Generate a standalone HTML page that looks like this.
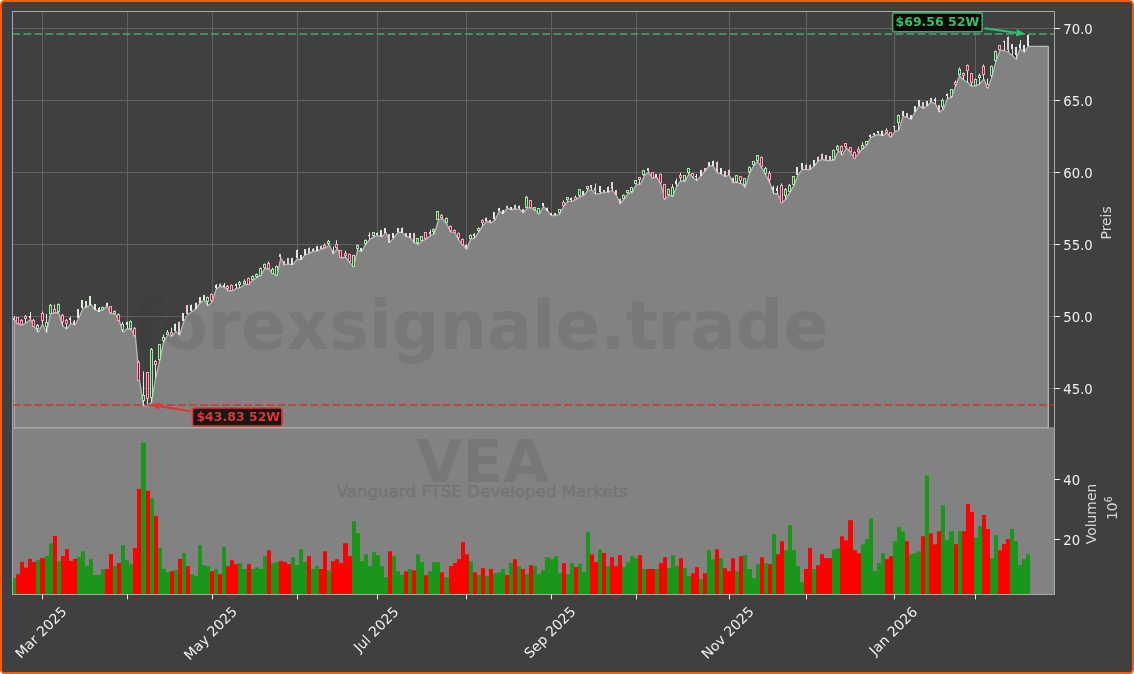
<!DOCTYPE html>
<html><head><meta charset="utf-8"><style>
html,body{margin:0;padding:0;background:#fff;}
body{width:1134px;height:674px;position:relative;overflow:hidden;}
</style></head><body>
<svg width="1134" height="674" viewBox="0 0 1134 674" style="position:absolute;left:0;top:0;will-change:transform">
<rect x="1" y="1" width="1132" height="672" rx="3.5" ry="3.5" fill="#404040" stroke="#fc5c00" stroke-width="2"/>
<defs><clipPath id="cp"><rect x="12.5" y="11.5" width="1042.0" height="417.0"/></clipPath><clipPath id="cv"><rect x="12.5" y="428.0" width="1042.0" height="166.5"/></clipPath></defs>
<path d="M12.5 28.5H1054.5 M12.5 100.5H1054.5 M12.5 172.5H1054.5 M12.5 244.5H1054.5 M12.5 316.5H1054.5 M12.5 388.5H1054.5 M42.5 11.5V427.8 M127.5 11.5V427.8 M212.5 11.5V427.8 M297.5 11.5V427.8 M377.5 11.5V427.8 M466.5 11.5V427.8 M551.5 11.5V427.8 M636.5 11.5V427.8 M729.5 11.5V427.8 M806.5 11.5V427.8 M894.5 11.5V427.8 M975.5 11.5V427.8" stroke="#626262" stroke-width="1" fill="none"/>
<g clip-path="url(#cp)"><path d="M14.22 427.80 L14.22 320.00 L18.26 324.00 L22.30 325.00 L26.34 322.80 L30.38 319.40 L34.42 326.80 L38.46 332.00 L42.50 324.00 L46.54 332.60 L50.58 313.70 L54.62 313.00 L58.66 312.50 L62.70 326.00 L66.74 329.00 L70.78 323.40 L74.82 325.00 L78.86 318.00 L82.90 308.50 L86.94 306.80 L90.98 304.50 L95.02 309.60 L99.06 311.40 L103.10 309.60 L107.14 306.00 L111.18 313.70 L115.22 314.00 L119.26 321.00 L123.30 332.00 L127.34 328.60 L131.38 329.70 L135.42 336.60 L139.46 380.50 L143.50 405.70 L147.54 405.70 L151.58 402.30 L155.62 378.00 L159.66 361.00 L163.70 342.00 L167.74 335.00 L171.78 336.50 L175.82 331.50 L179.86 335.00 L183.90 321.00 L187.94 314.40 L191.98 311.70 L196.02 308.40 L200.06 303.00 L204.10 299.70 L208.14 305.70 L212.18 301.70 L216.22 289.00 L220.26 286.40 L224.30 287.00 L228.34 290.80 L232.38 290.80 L236.42 288.40 L240.46 287.70 L244.50 284.40 L248.54 284.60 L252.58 280.40 L256.62 277.70 L260.66 275.70 L264.70 268.60 L268.74 269.00 L272.78 273.50 L276.82 275.80 L280.86 258.00 L284.90 264.60 L288.94 264.20 L292.98 264.60 L297.02 259.30 L301.06 259.70 L305.10 254.80 L309.14 253.30 L313.18 251.30 L317.22 250.80 L321.26 249.00 L325.30 248.00 L329.34 245.00 L333.38 253.50 L337.42 248.60 L341.46 258.00 L345.50 257.00 L349.54 262.40 L353.58 266.40 L357.62 250.00 L361.66 251.50 L365.70 244.40 L369.74 239.50 L373.78 236.90 L377.82 235.50 L381.86 236.90 L385.90 232.40 L389.94 242.20 L393.98 237.70 L398.02 232.40 L402.06 232.40 L406.10 236.40 L410.14 237.70 L414.18 242.60 L418.22 244.40 L422.26 241.30 L426.30 239.00 L430.34 235.50 L434.38 234.20 L438.42 220.00 L442.46 218.60 L446.50 223.50 L450.54 231.90 L454.58 232.30 L458.62 239.90 L462.66 244.80 L466.70 249.20 L470.74 239.00 L474.78 238.00 L478.82 231.90 L482.86 225.60 L486.90 221.20 L490.94 223.00 L494.98 220.30 L499.02 211.40 L503.06 213.60 L507.10 208.30 L511.14 209.50 L515.18 209.10 L519.22 209.10 L523.26 212.70 L527.30 207.80 L531.34 207.80 L535.38 210.50 L539.42 213.90 L543.46 206.60 L547.50 210.70 L551.54 215.70 L555.58 215.50 L559.62 214.20 L563.66 206.60 L567.70 201.30 L571.74 201.30 L575.78 200.00 L579.82 196.90 L583.86 195.50 L587.90 190.20 L591.94 190.20 L595.98 194.20 L600.02 193.30 L604.06 192.40 L608.10 192.40 L612.14 190.20 L616.18 195.00 L620.22 203.50 L624.26 199.00 L628.30 193.30 L632.34 192.50 L636.38 184.40 L640.42 184.30 L644.46 175.80 L648.50 172.30 L652.54 178.00 L656.58 177.20 L660.62 183.40 L664.66 199.40 L668.70 195.40 L672.74 196.30 L676.78 186.50 L680.82 180.70 L684.86 181.60 L688.90 174.00 L692.94 177.20 L696.98 180.70 L701.02 175.80 L705.06 171.00 L709.10 166.00 L713.14 166.00 L717.18 172.70 L721.22 174.00 L725.26 176.50 L729.30 175.20 L733.34 182.60 L737.38 182.60 L741.42 183.60 L745.46 187.20 L749.50 173.20 L753.54 166.00 L757.58 161.30 L761.62 167.50 L765.66 174.80 L769.70 182.60 L773.74 193.50 L777.78 194.00 L781.82 202.80 L785.86 199.20 L789.90 192.40 L793.94 185.70 L797.98 175.30 L802.02 169.60 L806.06 169.60 L810.10 169.60 L814.14 166.00 L818.18 161.00 L822.22 159.30 L826.26 160.60 L830.30 160.60 L834.34 160.00 L838.38 150.60 L842.42 155.10 L846.46 147.80 L850.50 152.30 L854.54 158.40 L858.58 153.40 L862.62 149.00 L866.66 145.00 L870.70 137.80 L874.74 135.60 L878.78 134.50 L882.82 135.60 L886.86 132.80 L890.90 137.30 L894.94 131.70 L898.98 130.00 L903.02 116.10 L907.06 117.30 L911.10 119.40 L915.14 111.80 L919.18 105.90 L923.22 108.50 L927.26 105.90 L931.30 101.80 L935.34 103.80 L939.38 112.10 L943.42 109.50 L947.46 98.60 L951.50 97.60 L955.54 86.20 L959.58 75.80 L963.62 80.00 L967.66 82.50 L971.70 86.20 L975.74 85.80 L979.78 84.20 L983.82 79.00 L987.86 88.40 L991.90 77.00 L995.94 61.40 L999.98 50.50 L1004.02 50.50 L1008.06 52.00 L1012.10 55.60 L1016.14 59.30 L1020.18 48.40 L1024.22 52.50 L1028.26 46.30 L1048.30 46.30 L1048.30 427.80Z" fill="#828282" stroke="#b8b8b8" stroke-width="1.3" stroke-linejoin="round"/></g>
<text transform="translate(480.8 348.5) scale(0.975 1)" text-anchor="middle" font-family="DejaVu Sans, sans-serif" font-weight="bold" font-size="68.5" fill="#2a2a2a" fill-opacity="0.11">forexsignale.trade</text>
<path d="M14.5 316.00V320.00" stroke="#e6e6e6" stroke-width="1"/>
<rect x="13" y="318" width="2" height="2" fill="#e4ebe4"/>
<path d="M17.5 317.00V324.00" stroke="#e6e6e6" stroke-width="1"/>
<rect x="16.5" y="317.5" width="2" height="6.0" fill="#9c0d37" stroke="#f8a4b7" stroke-width="1"/>
<path d="M21.5 319.00V325.00" stroke="#e6e6e6" stroke-width="1"/>
<rect x="20.5" y="320.5" width="2" height="4.0" fill="#9c0d37" stroke="#f8a4b7" stroke-width="1"/>
<path d="M25.5 315.00V322.80" stroke="#e6e6e6" stroke-width="1"/>
<rect x="24.5" y="316.5" width="2" height="2.0" fill="#9c0d37" stroke="#f8a4b7" stroke-width="1"/>
<path d="M30.5 312.00V319.40" stroke="#e6e6e6" stroke-width="1"/>
<rect x="29" y="316" width="2" height="2" fill="#eee2e5"/>
<path d="M33.5 319.00V326.80" stroke="#e6e6e6" stroke-width="1"/>
<rect x="32.5" y="320.5" width="2" height="6.0" fill="#9c0d37" stroke="#f8a4b7" stroke-width="1"/>
<path d="M37.5 324.00V332.00" stroke="#e6e6e6" stroke-width="1"/>
<rect x="36.5" y="325.5" width="2" height="3.0" fill="#17622a" stroke="#a9e5aa" stroke-width="1"/>
<path d="M42.5 311.60V324.00" stroke="#e6e6e6" stroke-width="1"/>
<rect x="41.5" y="313.5" width="2" height="7.0" fill="#9c0d37" stroke="#f8a4b7" stroke-width="1"/>
<path d="M46.5 314.00V332.60" stroke="#e6e6e6" stroke-width="1"/>
<rect x="45.5" y="322.5" width="2" height="4.0" fill="#17622a" stroke="#a9e5aa" stroke-width="1"/>
<path d="M50.5 304.00V313.70" stroke="#e6e6e6" stroke-width="1"/>
<rect x="49.5" y="305.5" width="2" height="8.0" fill="#17622a" stroke="#a9e5aa" stroke-width="1"/>
<path d="M54.5 304.50V313.00" stroke="#e6e6e6" stroke-width="1"/>
<rect x="53.5" y="309.5" width="2" height="3.0" fill="#9c0d37" stroke="#f8a4b7" stroke-width="1"/>
<path d="M58.5 303.50V312.50" stroke="#e6e6e6" stroke-width="1"/>
<rect x="57.5" y="304.5" width="2" height="7.0" fill="#17622a" stroke="#a9e5aa" stroke-width="1"/>
<path d="M62.5 314.00V326.00" stroke="#e6e6e6" stroke-width="1"/>
<rect x="61.5" y="315.5" width="2" height="6.0" fill="#9c0d37" stroke="#f8a4b7" stroke-width="1"/>
<path d="M66.5 319.00V329.00" stroke="#e6e6e6" stroke-width="1"/>
<rect x="65.5" y="320.5" width="2" height="3.0" fill="#9c0d37" stroke="#f8a4b7" stroke-width="1"/>
<path d="M70.5 316.50V323.40" stroke="#e6e6e6" stroke-width="1"/>
<rect x="69" y="318" width="2" height="2" fill="#eee2e5"/>
<path d="M74.5 320.00V325.00" stroke="#e0e0e0" stroke-width="1"/>
<rect x="73" y="321" width="2" height="4" fill="#ecc6d3"/>
<path d="M78.5 309.00V318.00" stroke="#e0e0e0" stroke-width="1"/>
<rect x="77" y="309" width="2" height="9" fill="#dcebdc"/>
<path d="M82.5 300.00V308.50" stroke="#e0e0e0" stroke-width="1"/>
<rect x="81" y="300" width="2" height="8" fill="#dcebdc"/>
<path d="M86.5 301.00V306.80" stroke="#e0e0e0" stroke-width="1"/>
<rect x="85" y="301" width="2" height="6" fill="#dcebdc"/>
<path d="M90.5 296.00V304.50" stroke="#e0e0e0" stroke-width="1"/>
<rect x="89" y="296" width="2" height="9" fill="#dcebdc"/>
<path d="M95.5 304.00V309.60" stroke="#e0e0e0" stroke-width="1"/>
<rect x="94" y="304" width="2" height="6" fill="#dcebdc"/>
<path d="M99.5 307.00V311.40" stroke="#e0e0e0" stroke-width="1"/>
<rect x="98" y="308" width="2" height="4" fill="#dcebdc"/>
<path d="M102.5 306.50V309.60" stroke="#e6e6e6" stroke-width="1"/>
<rect x="101.5" y="307.5" width="2" height="2.0" fill="#17622a" stroke="#a9e5aa" stroke-width="1"/>
<path d="M107.5 302.50V306.00" stroke="#e6e6e6" stroke-width="1"/>
<rect x="106" y="303" width="2" height="3" fill="#eee2e5"/>
<path d="M110.5 306.00V313.70" stroke="#e6e6e6" stroke-width="1"/>
<rect x="109.5" y="306.5" width="2" height="6.0" fill="#9c0d37" stroke="#f8a4b7" stroke-width="1"/>
<path d="M114.5 310.50V314.00" stroke="#e6e6e6" stroke-width="1"/>
<rect x="113.5" y="311.5" width="2" height="2.0" fill="#17622a" stroke="#a9e5aa" stroke-width="1"/>
<path d="M118.5 313.50V321.00" stroke="#e6e6e6" stroke-width="1"/>
<rect x="117.5" y="314.5" width="2" height="6.0" fill="#9c0d37" stroke="#f8a4b7" stroke-width="1"/>
<path d="M122.5 322.00V332.00" stroke="#e6e6e6" stroke-width="1"/>
<rect x="121.5" y="324.5" width="2" height="5.0" fill="#17622a" stroke="#a9e5aa" stroke-width="1"/>
<path d="M127.5 321.70V328.60" stroke="#e6e6e6" stroke-width="1"/>
<rect x="126" y="322" width="2" height="3" fill="#e4ebe4"/>
<path d="M130.5 320.50V329.70" stroke="#e6e6e6" stroke-width="1"/>
<rect x="129.5" y="321.5" width="2" height="7.0" fill="#17622a" stroke="#a9e5aa" stroke-width="1"/>
<path d="M134.5 327.00V336.60" stroke="#e6e6e6" stroke-width="1"/>
<rect x="133.5" y="328.5" width="2" height="7.0" fill="#9c0d37" stroke="#f8a4b7" stroke-width="1"/>
<path d="M138.5 360.50V380.50" stroke="#e6e6e6" stroke-width="1"/>
<rect x="137.5" y="362.5" width="2" height="18.0" fill="#9c0d37" stroke="#f8a4b7" stroke-width="1"/>
<path d="M143.5 371.50V405.70" stroke="#e6e6e6" stroke-width="1"/>
<rect x="142.5" y="395.5" width="2" height="5.0" fill="#17622a" stroke="#a9e5aa" stroke-width="1"/>
<path d="M147.5 372.00V405.70" stroke="#e6e6e6" stroke-width="1"/>
<rect x="146.5" y="372.5" width="2" height="26.0" fill="#9c0d37" stroke="#f8a4b7" stroke-width="1"/>
<path d="M151.5 348.00V402.30" stroke="#e6e6e6" stroke-width="1"/>
<rect x="150.5" y="349.5" width="2" height="48.0" fill="#17622a" stroke="#a9e5aa" stroke-width="1"/>
<path d="M155.5 360.00V378.00" stroke="#e6e6e6" stroke-width="1"/>
<rect x="154.5" y="361.5" width="2" height="3.0" fill="#9c0d37" stroke="#f8a4b7" stroke-width="1"/>
<path d="M159.5 344.00V361.00" stroke="#e6e6e6" stroke-width="1"/>
<rect x="158.5" y="344.5" width="2" height="15.0" fill="#17622a" stroke="#a9e5aa" stroke-width="1"/>
<path d="M163.5 334.60V342.00" stroke="#e6e6e6" stroke-width="1"/>
<rect x="162.5" y="337.5" width="2" height="3.0" fill="#17622a" stroke="#a9e5aa" stroke-width="1"/>
<path d="M167.5 329.90V335.00" stroke="#e6e6e6" stroke-width="1"/>
<rect x="166.5" y="332.5" width="2" height="2.0" fill="#17622a" stroke="#a9e5aa" stroke-width="1"/>
<path d="M171.5 327.60V336.50" stroke="#e6e6e6" stroke-width="1"/>
<rect x="170.5" y="332.5" width="2" height="2.0" fill="#9c0d37" stroke="#f8a4b7" stroke-width="1"/>
<path d="M175.5 323.50V331.50" stroke="#e0e0e0" stroke-width="1"/>
<rect x="174" y="324" width="2" height="7" fill="#dcebdc"/>
<path d="M179.5 321.50V335.00" stroke="#e0e0e0" stroke-width="1"/>
<rect x="178" y="322" width="2" height="13" fill="#ecc6d3"/>
<path d="M183.5 313.50V321.00" stroke="#e0e0e0" stroke-width="1"/>
<rect x="182" y="313" width="2" height="8" fill="#dcebdc"/>
<path d="M187.5 305.50V314.40" stroke="#e0e0e0" stroke-width="1"/>
<rect x="186" y="305" width="2" height="9" fill="#ecc6d3"/>
<path d="M191.5 304.50V311.70" stroke="#e0e0e0" stroke-width="1"/>
<rect x="190" y="305" width="2" height="6" fill="#dcebdc"/>
<path d="M196.5 302.50V308.40" stroke="#e0e0e0" stroke-width="1"/>
<rect x="195" y="303" width="2" height="6" fill="#dcebdc"/>
<path d="M200.5 297.00V303.00" stroke="#e0e0e0" stroke-width="1"/>
<rect x="199" y="297" width="2" height="6" fill="#dcebdc"/>
<path d="M204.5 295.00V299.70" stroke="#e0e0e0" stroke-width="1"/>
<rect x="203" y="295" width="2" height="5" fill="#dcebdc"/>
<path d="M207.5 296.50V305.70" stroke="#e6e6e6" stroke-width="1"/>
<rect x="206.5" y="297.5" width="2" height="4.0" fill="#17622a" stroke="#a9e5aa" stroke-width="1"/>
<path d="M211.5 293.50V301.70" stroke="#e6e6e6" stroke-width="1"/>
<rect x="210.5" y="294.5" width="2" height="6.0" fill="#9c0d37" stroke="#f8a4b7" stroke-width="1"/>
<path d="M216.5 284.00V289.00" stroke="#e6e6e6" stroke-width="1"/>
<rect x="215" y="285" width="2" height="3" fill="#e4ebe4"/>
<path d="M220.5 283.50V286.40" stroke="#e0e0e0" stroke-width="1"/>
<rect x="219" y="284" width="2" height="2" fill="#ecc6d3"/>
<path d="M224.5 283.00V287.00" stroke="#e6e6e6" stroke-width="1"/>
<rect x="223" y="285" width="2" height="2" fill="#e4ebe4"/>
<path d="M227.5 285.00V290.80" stroke="#e6e6e6" stroke-width="1"/>
<rect x="226.5" y="286.5" width="2" height="2.0" fill="#9c0d37" stroke="#f8a4b7" stroke-width="1"/>
<path d="M231.5 284.50V290.80" stroke="#e6e6e6" stroke-width="1"/>
<rect x="230.5" y="285.5" width="2" height="5.0" fill="#9c0d37" stroke="#f8a4b7" stroke-width="1"/>
<path d="M236.5 283.50V288.40" stroke="#e6e6e6" stroke-width="1"/>
<rect x="235" y="284" width="2" height="2" fill="#eee2e5"/>
<path d="M239.5 281.00V287.70" stroke="#e6e6e6" stroke-width="1"/>
<rect x="238.5" y="282.5" width="2" height="2.0" fill="#17622a" stroke="#a9e5aa" stroke-width="1"/>
<path d="M244.5 279.30V284.40" stroke="#e6e6e6" stroke-width="1"/>
<rect x="243.5" y="281.5" width="2" height="2.0" fill="#17622a" stroke="#a9e5aa" stroke-width="1"/>
<path d="M248.5 277.50V284.60" stroke="#e6e6e6" stroke-width="1"/>
<rect x="247.5" y="278.5" width="2" height="6.0" fill="#9c0d37" stroke="#f8a4b7" stroke-width="1"/>
<path d="M252.5 275.50V280.40" stroke="#e6e6e6" stroke-width="1"/>
<rect x="251.5" y="276.5" width="2" height="3.0" fill="#17622a" stroke="#a9e5aa" stroke-width="1"/>
<path d="M256.5 273.50V277.70" stroke="#e6e6e6" stroke-width="1"/>
<rect x="255.5" y="274.5" width="2" height="2.0" fill="#17622a" stroke="#a9e5aa" stroke-width="1"/>
<path d="M260.5 267.50V275.70" stroke="#e6e6e6" stroke-width="1"/>
<rect x="259.5" y="268.5" width="2" height="7.0" fill="#17622a" stroke="#a9e5aa" stroke-width="1"/>
<path d="M264.5 263.50V268.60" stroke="#e6e6e6" stroke-width="1"/>
<rect x="263.5" y="264.5" width="2" height="3.0" fill="#17622a" stroke="#a9e5aa" stroke-width="1"/>
<path d="M268.5 261.50V269.00" stroke="#e6e6e6" stroke-width="1"/>
<rect x="267.5" y="263.5" width="2" height="5.0" fill="#9c0d37" stroke="#f8a4b7" stroke-width="1"/>
<path d="M272.5 267.70V273.50" stroke="#e6e6e6" stroke-width="1"/>
<rect x="271.5" y="269.5" width="2" height="4.0" fill="#17622a" stroke="#a9e5aa" stroke-width="1"/>
<path d="M276.5 265.50V275.80" stroke="#e6e6e6" stroke-width="1"/>
<rect x="275.5" y="266.5" width="2" height="9.0" fill="#17622a" stroke="#a9e5aa" stroke-width="1"/>
<path d="M280.5 254.00V258.00" stroke="#e0e0e0" stroke-width="1"/>
<rect x="279" y="254" width="2" height="3" fill="#ecc6d3"/>
<path d="M284.5 261.00V264.60" stroke="#e0e0e0" stroke-width="1"/>
<rect x="283" y="262" width="2" height="3" fill="#ecc6d3"/>
<path d="M288.5 258.00V264.20" stroke="#e0e0e0" stroke-width="1"/>
<rect x="287" y="258" width="2" height="6" fill="#ecc6d3"/>
<path d="M292.5 258.00V264.60" stroke="#e0e0e0" stroke-width="1"/>
<rect x="291" y="258" width="2" height="7" fill="#dcebdc"/>
<path d="M297.5 249.50V259.30" stroke="#e0e0e0" stroke-width="1"/>
<rect x="296" y="250" width="2" height="8" fill="#dcebdc"/>
<path d="M301.5 255.00V259.70" stroke="#e0e0e0" stroke-width="1"/>
<rect x="300" y="255" width="2" height="5" fill="#dcebdc"/>
<path d="M305.5 249.00V254.80" stroke="#e0e0e0" stroke-width="1"/>
<rect x="304" y="249" width="2" height="6" fill="#dcebdc"/>
<path d="M309.5 247.50V253.30" stroke="#e0e0e0" stroke-width="1"/>
<rect x="308" y="248" width="2" height="5" fill="#ecc6d3"/>
<path d="M313.5 248.00V251.30" stroke="#e0e0e0" stroke-width="1"/>
<rect x="312" y="249" width="2" height="2" fill="#dcebdc"/>
<path d="M317.5 246.00V250.80" stroke="#e0e0e0" stroke-width="1"/>
<rect x="316" y="246" width="2" height="5" fill="#dcebdc"/>
<path d="M321.5 245.50V249.00" stroke="#e0e0e0" stroke-width="1"/>
<rect x="320" y="246" width="2" height="3" fill="#ecc6d3"/>
<path d="M324.5 243.30V248.00" stroke="#e6e6e6" stroke-width="1"/>
<rect x="323.5" y="245.5" width="2" height="2.0" fill="#9c0d37" stroke="#f8a4b7" stroke-width="1"/>
<path d="M328.5 240.00V245.00" stroke="#e6e6e6" stroke-width="1"/>
<rect x="327.5" y="241.5" width="2" height="2.0" fill="#17622a" stroke="#a9e5aa" stroke-width="1"/>
<path d="M333.5 246.40V253.50" stroke="#e0e0e0" stroke-width="1"/>
<rect x="332" y="250" width="2" height="4" fill="#ecc6d3"/>
<path d="M336.5 240.30V248.60" stroke="#e6e6e6" stroke-width="1"/>
<rect x="335.5" y="244.5" width="2" height="3.0" fill="#9c0d37" stroke="#f8a4b7" stroke-width="1"/>
<path d="M340.5 250.00V258.00" stroke="#e6e6e6" stroke-width="1"/>
<rect x="339.5" y="250.5" width="2" height="7.0" fill="#9c0d37" stroke="#f8a4b7" stroke-width="1"/>
<path d="M345.5 250.80V257.00" stroke="#e6e6e6" stroke-width="1"/>
<rect x="344.5" y="253.5" width="2" height="2.0" fill="#9c0d37" stroke="#f8a4b7" stroke-width="1"/>
<path d="M349.5 253.50V262.40" stroke="#e6e6e6" stroke-width="1"/>
<rect x="348.5" y="254.5" width="2" height="7.0" fill="#9c0d37" stroke="#f8a4b7" stroke-width="1"/>
<path d="M353.5 254.80V266.40" stroke="#e6e6e6" stroke-width="1"/>
<rect x="352.5" y="255.5" width="2" height="11.0" fill="#17622a" stroke="#a9e5aa" stroke-width="1"/>
<path d="M357.5 244.50V250.00" stroke="#e6e6e6" stroke-width="1"/>
<rect x="356.5" y="245.5" width="2" height="3.0" fill="#17622a" stroke="#a9e5aa" stroke-width="1"/>
<path d="M361.5 248.00V251.50" stroke="#e0e0e0" stroke-width="1"/>
<rect x="360" y="248" width="2" height="3" fill="#dcebdc"/>
<path d="M365.5 239.50V244.40" stroke="#e6e6e6" stroke-width="1"/>
<rect x="364.5" y="240.5" width="2" height="3.0" fill="#17622a" stroke="#a9e5aa" stroke-width="1"/>
<path d="M369.5 232.40V239.50" stroke="#e6e6e6" stroke-width="1"/>
<rect x="368" y="235" width="2" height="1" fill="#e4ebe4"/>
<path d="M373.5 232.00V236.90" stroke="#e6e6e6" stroke-width="1"/>
<rect x="372.5" y="232.5" width="2" height="3.0" fill="#17622a" stroke="#a9e5aa" stroke-width="1"/>
<path d="M377.5 232.50V235.50" stroke="#e6e6e6" stroke-width="1"/>
<rect x="376" y="233" width="2" height="2" fill="#e4ebe4"/>
<path d="M381.5 230.00V236.90" stroke="#e0e0e0" stroke-width="1"/>
<rect x="380" y="230" width="2" height="7" fill="#dcebdc"/>
<path d="M385.5 228.00V232.40" stroke="#e0e0e0" stroke-width="1"/>
<rect x="384" y="228" width="2" height="5" fill="#dcebdc"/>
<path d="M389.5 234.00V242.20" stroke="#e0e0e0" stroke-width="1"/>
<rect x="388" y="234" width="2" height="9" fill="#ecc6d3"/>
<path d="M393.5 233.00V237.70" stroke="#e0e0e0" stroke-width="1"/>
<rect x="392" y="233" width="2" height="5" fill="#dcebdc"/>
<path d="M398.5 228.00V232.40" stroke="#e0e0e0" stroke-width="1"/>
<rect x="397" y="228" width="2" height="4" fill="#dcebdc"/>
<path d="M402.5 227.50V232.40" stroke="#e0e0e0" stroke-width="1"/>
<rect x="401" y="228" width="2" height="5" fill="#dcebdc"/>
<path d="M406.5 233.00V236.40" stroke="#e0e0e0" stroke-width="1"/>
<rect x="405" y="233" width="2" height="4" fill="#ecc6d3"/>
<path d="M410.5 233.00V237.70" stroke="#e0e0e0" stroke-width="1"/>
<rect x="409" y="233" width="2" height="5" fill="#dcebdc"/>
<path d="M414.5 233.00V242.60" stroke="#e0e0e0" stroke-width="1"/>
<rect x="413" y="233" width="2" height="10" fill="#ecc6d3"/>
<path d="M417.5 238.00V244.40" stroke="#e6e6e6" stroke-width="1"/>
<rect x="416.5" y="238.5" width="2" height="4.0" fill="#17622a" stroke="#a9e5aa" stroke-width="1"/>
<path d="M421.5 236.00V241.30" stroke="#e6e6e6" stroke-width="1"/>
<rect x="420.5" y="236.5" width="2" height="4.0" fill="#17622a" stroke="#a9e5aa" stroke-width="1"/>
<path d="M425.5 232.00V239.00" stroke="#e6e6e6" stroke-width="1"/>
<rect x="424.5" y="232.5" width="2" height="6.0" fill="#9c0d37" stroke="#f8a4b7" stroke-width="1"/>
<path d="M430.5 229.70V235.50" stroke="#e6e6e6" stroke-width="1"/>
<rect x="429" y="232" width="2" height="2" fill="#e4ebe4"/>
<path d="M433.5 228.50V234.20" stroke="#e6e6e6" stroke-width="1"/>
<rect x="432.5" y="229.5" width="2" height="2.0" fill="#17622a" stroke="#a9e5aa" stroke-width="1"/>
<path d="M437.5 211.00V220.00" stroke="#e6e6e6" stroke-width="1"/>
<rect x="436.5" y="211.5" width="2" height="8.0" fill="#17622a" stroke="#a9e5aa" stroke-width="1"/>
<path d="M441.5 214.10V218.60" stroke="#e6e6e6" stroke-width="1"/>
<rect x="440.5" y="215.5" width="2" height="2.0" fill="#9c0d37" stroke="#f8a4b7" stroke-width="1"/>
<path d="M446.5 217.50V223.50" stroke="#e6e6e6" stroke-width="1"/>
<rect x="445.5" y="218.5" width="2" height="4.0" fill="#17622a" stroke="#a9e5aa" stroke-width="1"/>
<path d="M450.5 225.50V231.90" stroke="#e6e6e6" stroke-width="1"/>
<rect x="449.5" y="226.5" width="2" height="4.0" fill="#9c0d37" stroke="#f8a4b7" stroke-width="1"/>
<path d="M454.5 229.50V232.30" stroke="#e6e6e6" stroke-width="1"/>
<rect x="453.5" y="230.5" width="2" height="2.0" fill="#9c0d37" stroke="#f8a4b7" stroke-width="1"/>
<path d="M458.5 232.50V239.90" stroke="#e6e6e6" stroke-width="1"/>
<rect x="457.5" y="233.5" width="2" height="4.0" fill="#9c0d37" stroke="#f8a4b7" stroke-width="1"/>
<path d="M462.5 238.50V244.80" stroke="#e6e6e6" stroke-width="1"/>
<rect x="461.5" y="239.5" width="2" height="5.0" fill="#9c0d37" stroke="#f8a4b7" stroke-width="1"/>
<path d="M466.5 244.50V249.20" stroke="#e6e6e6" stroke-width="1"/>
<rect x="465" y="245" width="2" height="2" fill="#eee2e5"/>
<path d="M470.5 234.50V239.00" stroke="#e6e6e6" stroke-width="1"/>
<rect x="469.5" y="235.5" width="2" height="3.0" fill="#17622a" stroke="#a9e5aa" stroke-width="1"/>
<path d="M474.5 233.00V238.00" stroke="#e6e6e6" stroke-width="1"/>
<rect x="473" y="234" width="2" height="2" fill="#eee2e5"/>
<path d="M478.5 227.50V231.90" stroke="#e6e6e6" stroke-width="1"/>
<rect x="477.5" y="228.5" width="2" height="2.0" fill="#17622a" stroke="#a9e5aa" stroke-width="1"/>
<path d="M482.5 219.50V225.60" stroke="#e6e6e6" stroke-width="1"/>
<rect x="481.5" y="220.5" width="2" height="2.0" fill="#9c0d37" stroke="#f8a4b7" stroke-width="1"/>
<path d="M486.5 217.50V221.20" stroke="#e0e0e0" stroke-width="1"/>
<rect x="485" y="218" width="2" height="3" fill="#dcebdc"/>
<path d="M490.5 220.00V223.00" stroke="#e0e0e0" stroke-width="1"/>
<rect x="489" y="220" width="2" height="3" fill="#ecc6d3"/>
<path d="M494.5 212.00V220.30" stroke="#e0e0e0" stroke-width="1"/>
<rect x="493" y="212" width="2" height="7" fill="#dcebdc"/>
<path d="M499.5 207.80V211.40" stroke="#e0e0e0" stroke-width="1"/>
<rect x="498" y="208" width="2" height="3" fill="#dcebdc"/>
<path d="M503.5 210.00V213.60" stroke="#e0e0e0" stroke-width="1"/>
<rect x="502" y="210" width="2" height="4" fill="#dcebdc"/>
<path d="M507.5 205.50V208.30" stroke="#e0e0e0" stroke-width="1"/>
<rect x="506" y="206" width="2" height="2" fill="#ecc6d3"/>
<path d="M511.5 207.00V209.50" stroke="#e0e0e0" stroke-width="1"/>
<rect x="510" y="207" width="2" height="3" fill="#dcebdc"/>
<path d="M515.5 204.50V209.10" stroke="#e0e0e0" stroke-width="1"/>
<rect x="514" y="205" width="2" height="4" fill="#ecc6d3"/>
<path d="M519.5 205.50V209.10" stroke="#e6e6e6" stroke-width="1"/>
<rect x="518" y="206" width="2" height="2" fill="#e4ebe4"/>
<path d="M523.5 209.00V212.70" stroke="#e0e0e0" stroke-width="1"/>
<rect x="522" y="209" width="2" height="4" fill="#ecc6d3"/>
<path d="M526.5 195.80V207.80" stroke="#e6e6e6" stroke-width="1"/>
<rect x="525.5" y="197.5" width="2" height="10.0" fill="#17622a" stroke="#a9e5aa" stroke-width="1"/>
<path d="M530.5 199.80V207.80" stroke="#e6e6e6" stroke-width="1"/>
<rect x="529.5" y="200.5" width="2" height="7.0" fill="#9c0d37" stroke="#f8a4b7" stroke-width="1"/>
<path d="M534.5 207.00V210.50" stroke="#e6e6e6" stroke-width="1"/>
<rect x="533.5" y="207.5" width="2" height="2.0" fill="#17622a" stroke="#a9e5aa" stroke-width="1"/>
<path d="M538.5 208.00V213.90" stroke="#e6e6e6" stroke-width="1"/>
<rect x="537.5" y="208.5" width="2" height="5.0" fill="#17622a" stroke="#a9e5aa" stroke-width="1"/>
<path d="M543.5 203.00V206.60" stroke="#e6e6e6" stroke-width="1"/>
<rect x="542" y="203" width="2" height="3" fill="#e4ebe4"/>
<path d="M547.5 207.50V210.70" stroke="#e0e0e0" stroke-width="1"/>
<rect x="546" y="208" width="2" height="3" fill="#dcebdc"/>
<path d="M551.5 213.00V215.70" stroke="#e0e0e0" stroke-width="1"/>
<rect x="550" y="213" width="2" height="2" fill="#dcebdc"/>
<path d="M555.5 213.50V215.50" stroke="#e0e0e0" stroke-width="1"/>
<rect x="554" y="213" width="2" height="2" fill="#dcebdc"/>
<path d="M559.5 209.00V214.20" stroke="#e6e6e6" stroke-width="1"/>
<rect x="558.5" y="209.5" width="2" height="3.0" fill="#17622a" stroke="#a9e5aa" stroke-width="1"/>
<path d="M563.5 200.40V206.60" stroke="#e6e6e6" stroke-width="1"/>
<rect x="562.5" y="202.5" width="2" height="3.0" fill="#9c0d37" stroke="#f8a4b7" stroke-width="1"/>
<path d="M567.5 197.00V201.30" stroke="#e6e6e6" stroke-width="1"/>
<rect x="566.5" y="197.5" width="2" height="2.0" fill="#17622a" stroke="#a9e5aa" stroke-width="1"/>
<path d="M571.5 197.50V201.30" stroke="#e6e6e6" stroke-width="1"/>
<rect x="570" y="198" width="2" height="2" fill="#e4ebe4"/>
<path d="M575.5 195.50V200.00" stroke="#e6e6e6" stroke-width="1"/>
<rect x="574.5" y="197.5" width="2" height="2.0" fill="#9c0d37" stroke="#f8a4b7" stroke-width="1"/>
<path d="M579.5 189.00V196.90" stroke="#e6e6e6" stroke-width="1"/>
<rect x="578.5" y="189.5" width="2" height="6.0" fill="#17622a" stroke="#a9e5aa" stroke-width="1"/>
<path d="M583.5 191.00V195.50" stroke="#e0e0e0" stroke-width="1"/>
<rect x="582" y="191" width="2" height="4" fill="#dcebdc"/>
<path d="M587.5 186.00V190.20" stroke="#e6e6e6" stroke-width="1"/>
<rect x="586.5" y="186.5" width="2" height="2.0" fill="#17622a" stroke="#a9e5aa" stroke-width="1"/>
<path d="M591.5 185.00V190.20" stroke="#e0e0e0" stroke-width="1"/>
<rect x="590" y="185" width="2" height="3" fill="#ecc6d3"/>
<path d="M595.5 183.50V194.20" stroke="#e0e0e0" stroke-width="1"/>
<rect x="594" y="188" width="2" height="3" fill="#ecc6d3"/>
<path d="M600.5 186.00V193.30" stroke="#e0e0e0" stroke-width="1"/>
<rect x="599" y="186" width="2" height="6" fill="#dcebdc"/>
<path d="M604.5 190.00V192.40" stroke="#e0e0e0" stroke-width="1"/>
<rect x="603" y="190" width="2" height="2" fill="#ecc6d3"/>
<path d="M608.5 186.50V192.40" stroke="#e0e0e0" stroke-width="1"/>
<rect x="607" y="187" width="2" height="5" fill="#dcebdc"/>
<path d="M612.5 182.00V190.20" stroke="#e0e0e0" stroke-width="1"/>
<rect x="611" y="182" width="2" height="7" fill="#ecc6d3"/>
<path d="M616.5 190.00V195.00" stroke="#e0e0e0" stroke-width="1"/>
<rect x="615" y="190" width="2" height="5" fill="#ecc6d3"/>
<path d="M620.5 198.50V203.50" stroke="#e0e0e0" stroke-width="1"/>
<rect x="619" y="199" width="2" height="5" fill="#ecc6d3"/>
<path d="M623.5 194.50V199.00" stroke="#e6e6e6" stroke-width="1"/>
<rect x="622.5" y="195.5" width="2" height="3.0" fill="#17622a" stroke="#a9e5aa" stroke-width="1"/>
<path d="M627.5 190.00V193.30" stroke="#e6e6e6" stroke-width="1"/>
<rect x="626.5" y="190.5" width="2" height="2.0" fill="#17622a" stroke="#a9e5aa" stroke-width="1"/>
<path d="M631.5 187.00V192.50" stroke="#e6e6e6" stroke-width="1"/>
<rect x="630.5" y="187.5" width="2" height="4.0" fill="#17622a" stroke="#a9e5aa" stroke-width="1"/>
<path d="M635.5 180.50V184.40" stroke="#e6e6e6" stroke-width="1"/>
<rect x="634.5" y="180.5" width="2" height="3.0" fill="#17622a" stroke="#a9e5aa" stroke-width="1"/>
<path d="M639.5 177.00V184.30" stroke="#e6e6e6" stroke-width="1"/>
<rect x="638.5" y="177.5" width="2" height="2.0" fill="#9c0d37" stroke="#f8a4b7" stroke-width="1"/>
<path d="M643.5 170.00V175.80" stroke="#e6e6e6" stroke-width="1"/>
<rect x="642.5" y="170.5" width="2" height="4.0" fill="#17622a" stroke="#a9e5aa" stroke-width="1"/>
<path d="M648.5 168.00V172.30" stroke="#e0e0e0" stroke-width="1"/>
<rect x="647" y="168" width="2" height="3" fill="#ecc6d3"/>
<path d="M652.5 172.00V178.00" stroke="#e6e6e6" stroke-width="1"/>
<rect x="651.5" y="172.5" width="2" height="5.0" fill="#9c0d37" stroke="#f8a4b7" stroke-width="1"/>
<path d="M656.5 174.00V177.20" stroke="#e6e6e6" stroke-width="1"/>
<rect x="655" y="174" width="2" height="3" fill="#e4ebe4"/>
<path d="M660.5 173.50V183.40" stroke="#e6e6e6" stroke-width="1"/>
<rect x="659.5" y="174.5" width="2" height="8.0" fill="#9c0d37" stroke="#f8a4b7" stroke-width="1"/>
<path d="M664.5 184.00V199.40" stroke="#e6e6e6" stroke-width="1"/>
<rect x="663.5" y="184.5" width="2" height="14.0" fill="#9c0d37" stroke="#f8a4b7" stroke-width="1"/>
<path d="M668.5 188.50V195.40" stroke="#e6e6e6" stroke-width="1"/>
<rect x="667.5" y="189.5" width="2" height="5.0" fill="#17622a" stroke="#a9e5aa" stroke-width="1"/>
<path d="M672.5 184.30V196.30" stroke="#e6e6e6" stroke-width="1"/>
<rect x="671.5" y="187.5" width="2" height="8.0" fill="#17622a" stroke="#a9e5aa" stroke-width="1"/>
<path d="M676.5 178.50V186.50" stroke="#e6e6e6" stroke-width="1"/>
<rect x="675" y="181" width="2" height="3" fill="#e4ebe4"/>
<path d="M680.5 172.70V180.70" stroke="#e6e6e6" stroke-width="1"/>
<rect x="679.5" y="175.5" width="2" height="2.0" fill="#9c0d37" stroke="#f8a4b7" stroke-width="1"/>
<path d="M684.5 175.50V181.60" stroke="#e6e6e6" stroke-width="1"/>
<rect x="683.5" y="175.5" width="2" height="5.0" fill="#17622a" stroke="#a9e5aa" stroke-width="1"/>
<path d="M688.5 168.50V174.00" stroke="#e6e6e6" stroke-width="1"/>
<rect x="687.5" y="168.5" width="2" height="4.0" fill="#17622a" stroke="#a9e5aa" stroke-width="1"/>
<path d="M692.5 173.00V177.20" stroke="#e6e6e6" stroke-width="1"/>
<rect x="691.5" y="173.5" width="2" height="3.0" fill="#9c0d37" stroke="#f8a4b7" stroke-width="1"/>
<path d="M696.5 174.00V180.70" stroke="#e6e6e6" stroke-width="1"/>
<rect x="695" y="176" width="2" height="1" fill="#eee2e5"/>
<path d="M701.5 170.00V175.80" stroke="#e0e0e0" stroke-width="1"/>
<rect x="700" y="170" width="2" height="6" fill="#dcebdc"/>
<path d="M705.5 168.00V171.00" stroke="#e0e0e0" stroke-width="1"/>
<rect x="704" y="168" width="2" height="3" fill="#ecc6d3"/>
<path d="M709.5 162.00V166.00" stroke="#e0e0e0" stroke-width="1"/>
<rect x="708" y="162" width="2" height="4" fill="#dcebdc"/>
<path d="M713.5 160.50V166.00" stroke="#e0e0e0" stroke-width="1"/>
<rect x="712" y="161" width="2" height="5" fill="#dcebdc"/>
<path d="M717.5 161.50V172.70" stroke="#e0e0e0" stroke-width="1"/>
<rect x="716" y="162" width="2" height="9" fill="#ecc6d3"/>
<path d="M721.5 168.00V174.00" stroke="#e0e0e0" stroke-width="1"/>
<rect x="720" y="168" width="2" height="6" fill="#dcebdc"/>
<path d="M725.5 171.00V176.50" stroke="#e0e0e0" stroke-width="1"/>
<rect x="724" y="171" width="2" height="6" fill="#ecc6d3"/>
<path d="M729.5 169.50V175.20" stroke="#e0e0e0" stroke-width="1"/>
<rect x="728" y="170" width="2" height="5" fill="#ecc6d3"/>
<path d="M733.5 177.50V182.60" stroke="#e0e0e0" stroke-width="1"/>
<rect x="732" y="178" width="2" height="5" fill="#ecc6d3"/>
<path d="M736.5 175.50V182.60" stroke="#e6e6e6" stroke-width="1"/>
<rect x="735.5" y="175.5" width="2" height="6.0" fill="#17622a" stroke="#a9e5aa" stroke-width="1"/>
<path d="M740.5 176.50V183.60" stroke="#e6e6e6" stroke-width="1"/>
<rect x="739.5" y="176.5" width="2" height="4.0" fill="#9c0d37" stroke="#f8a4b7" stroke-width="1"/>
<path d="M744.5 178.00V187.20" stroke="#e6e6e6" stroke-width="1"/>
<rect x="743.5" y="178.5" width="2" height="6.0" fill="#17622a" stroke="#a9e5aa" stroke-width="1"/>
<path d="M749.5 166.50V173.20" stroke="#e6e6e6" stroke-width="1"/>
<rect x="748.5" y="167.5" width="2" height="4.0" fill="#17622a" stroke="#a9e5aa" stroke-width="1"/>
<path d="M753.5 161.00V166.00" stroke="#e6e6e6" stroke-width="1"/>
<rect x="752.5" y="161.5" width="2" height="3.0" fill="#17622a" stroke="#a9e5aa" stroke-width="1"/>
<path d="M757.5 155.00V161.30" stroke="#e6e6e6" stroke-width="1"/>
<rect x="756.5" y="155.5" width="2" height="5.0" fill="#17622a" stroke="#a9e5aa" stroke-width="1"/>
<path d="M761.5 156.50V167.50" stroke="#e6e6e6" stroke-width="1"/>
<rect x="760.5" y="157.5" width="2" height="9.0" fill="#9c0d37" stroke="#f8a4b7" stroke-width="1"/>
<path d="M765.5 167.00V174.80" stroke="#e6e6e6" stroke-width="1"/>
<rect x="764.5" y="168.5" width="2" height="5.0" fill="#17622a" stroke="#a9e5aa" stroke-width="1"/>
<path d="M769.5 171.00V182.60" stroke="#e6e6e6" stroke-width="1"/>
<rect x="768.5" y="173.5" width="2" height="6.0" fill="#9c0d37" stroke="#f8a4b7" stroke-width="1"/>
<path d="M773.5 185.70V193.50" stroke="#e6e6e6" stroke-width="1"/>
<rect x="772" y="187" width="2" height="3" fill="#e4ebe4"/>
<path d="M777.5 185.70V194.00" stroke="#e6e6e6" stroke-width="1"/>
<rect x="776" y="188" width="2" height="3" fill="#eee2e5"/>
<path d="M781.5 183.50V202.80" stroke="#e6e6e6" stroke-width="1"/>
<rect x="780.5" y="185.5" width="2" height="17.0" fill="#9c0d37" stroke="#f8a4b7" stroke-width="1"/>
<path d="M785.5 188.00V199.20" stroke="#e6e6e6" stroke-width="1"/>
<rect x="784.5" y="189.5" width="2" height="6.0" fill="#17622a" stroke="#a9e5aa" stroke-width="1"/>
<path d="M789.5 184.00V192.40" stroke="#e6e6e6" stroke-width="1"/>
<rect x="788.5" y="185.5" width="2" height="6.0" fill="#17622a" stroke="#a9e5aa" stroke-width="1"/>
<path d="M793.5 176.50V185.70" stroke="#e6e6e6" stroke-width="1"/>
<rect x="792.5" y="176.5" width="2" height="8.0" fill="#17622a" stroke="#a9e5aa" stroke-width="1"/>
<path d="M797.5 167.00V175.30" stroke="#e0e0e0" stroke-width="1"/>
<rect x="796" y="167" width="2" height="8" fill="#dcebdc"/>
<path d="M802.5 163.50V169.60" stroke="#e0e0e0" stroke-width="1"/>
<rect x="801" y="163" width="2" height="6" fill="#dcebdc"/>
<path d="M806.5 164.50V169.60" stroke="#e0e0e0" stroke-width="1"/>
<rect x="805" y="165" width="2" height="5" fill="#ecc6d3"/>
<path d="M810.5 164.50V169.60" stroke="#e0e0e0" stroke-width="1"/>
<rect x="809" y="165" width="2" height="4" fill="#ecc6d3"/>
<path d="M814.5 160.50V166.00" stroke="#e0e0e0" stroke-width="1"/>
<rect x="813" y="160" width="2" height="6" fill="#dcebdc"/>
<path d="M818.5 156.50V161.00" stroke="#e0e0e0" stroke-width="1"/>
<rect x="817" y="157" width="2" height="4" fill="#ecc6d3"/>
<path d="M822.5 153.50V159.30" stroke="#e0e0e0" stroke-width="1"/>
<rect x="821" y="154" width="2" height="5" fill="#ecc6d3"/>
<path d="M826.5 155.00V160.60" stroke="#e0e0e0" stroke-width="1"/>
<rect x="825" y="155" width="2" height="5" fill="#ecc6d3"/>
<path d="M830.5 156.00V160.60" stroke="#e0e0e0" stroke-width="1"/>
<rect x="829" y="156" width="2" height="4" fill="#ecc6d3"/>
<path d="M833.5 149.50V160.00" stroke="#e6e6e6" stroke-width="1"/>
<rect x="832.5" y="150.5" width="2" height="9.0" fill="#17622a" stroke="#a9e5aa" stroke-width="1"/>
<path d="M837.5 145.00V150.60" stroke="#e6e6e6" stroke-width="1"/>
<rect x="836.5" y="146.5" width="2" height="3.0" fill="#17622a" stroke="#a9e5aa" stroke-width="1"/>
<path d="M841.5 145.50V155.10" stroke="#e6e6e6" stroke-width="1"/>
<rect x="840.5" y="146.5" width="2" height="5.0" fill="#9c0d37" stroke="#f8a4b7" stroke-width="1"/>
<path d="M845.5 143.00V147.80" stroke="#e6e6e6" stroke-width="1"/>
<rect x="844.5" y="143.5" width="2" height="3.0" fill="#9c0d37" stroke="#f8a4b7" stroke-width="1"/>
<path d="M850.5 147.50V152.30" stroke="#e6e6e6" stroke-width="1"/>
<rect x="849.5" y="147.5" width="2" height="4.0" fill="#9c0d37" stroke="#f8a4b7" stroke-width="1"/>
<path d="M854.5 151.50V158.40" stroke="#e6e6e6" stroke-width="1"/>
<rect x="853.5" y="152.5" width="2" height="6.0" fill="#9c0d37" stroke="#f8a4b7" stroke-width="1"/>
<path d="M858.5 146.70V153.40" stroke="#e6e6e6" stroke-width="1"/>
<rect x="857.5" y="149.5" width="2" height="2.0" fill="#9c0d37" stroke="#f8a4b7" stroke-width="1"/>
<path d="M862.5 142.30V149.00" stroke="#e6e6e6" stroke-width="1"/>
<rect x="861.5" y="145.5" width="2" height="3.0" fill="#17622a" stroke="#a9e5aa" stroke-width="1"/>
<path d="M866.5 141.00V145.00" stroke="#e6e6e6" stroke-width="1"/>
<rect x="865.5" y="141.5" width="2" height="3.0" fill="#17622a" stroke="#a9e5aa" stroke-width="1"/>
<path d="M870.5 134.50V137.80" stroke="#e0e0e0" stroke-width="1"/>
<rect x="869" y="135" width="2" height="2" fill="#dcebdc"/>
<path d="M874.5 133.00V135.60" stroke="#e0e0e0" stroke-width="1"/>
<rect x="873" y="133" width="2" height="2" fill="#dcebdc"/>
<path d="M878.5 131.00V134.50" stroke="#e6e6e6" stroke-width="1"/>
<rect x="877" y="131" width="2" height="2" fill="#e4ebe4"/>
<path d="M882.5 130.50V135.60" stroke="#e0e0e0" stroke-width="1"/>
<rect x="881" y="131" width="2" height="5" fill="#dcebdc"/>
<path d="M886.5 128.40V132.80" stroke="#e6e6e6" stroke-width="1"/>
<rect x="885.5" y="130.5" width="2" height="2.0" fill="#9c0d37" stroke="#f8a4b7" stroke-width="1"/>
<path d="M890.5 132.00V137.30" stroke="#e6e6e6" stroke-width="1"/>
<rect x="889.5" y="132.5" width="2" height="4.0" fill="#9c0d37" stroke="#f8a4b7" stroke-width="1"/>
<path d="M894.5 126.00V131.70" stroke="#e6e6e6" stroke-width="1"/>
<rect x="893" y="126" width="2" height="1" fill="#e4ebe4"/>
<path d="M898.5 114.50V130.00" stroke="#e6e6e6" stroke-width="1"/>
<rect x="897.5" y="115.5" width="2" height="7.0" fill="#17622a" stroke="#a9e5aa" stroke-width="1"/>
<path d="M903.5 111.20V116.10" stroke="#e0e0e0" stroke-width="1"/>
<rect x="902" y="111" width="2" height="5" fill="#dcebdc"/>
<path d="M907.5 113.00V117.30" stroke="#e0e0e0" stroke-width="1"/>
<rect x="906" y="113" width="2" height="4" fill="#ecc6d3"/>
<path d="M911.5 115.00V119.40" stroke="#e0e0e0" stroke-width="1"/>
<rect x="910" y="115" width="2" height="4" fill="#dcebdc"/>
<path d="M915.5 106.00V111.80" stroke="#e0e0e0" stroke-width="1"/>
<rect x="914" y="106" width="2" height="6" fill="#dcebdc"/>
<path d="M919.5 100.20V105.90" stroke="#e0e0e0" stroke-width="1"/>
<rect x="918" y="100" width="2" height="6" fill="#dcebdc"/>
<path d="M923.5 102.00V108.50" stroke="#e0e0e0" stroke-width="1"/>
<rect x="922" y="102" width="2" height="6" fill="#ecc6d3"/>
<path d="M927.5 101.50V105.90" stroke="#e0e0e0" stroke-width="1"/>
<rect x="926" y="101" width="2" height="5" fill="#dcebdc"/>
<path d="M931.5 97.80V101.80" stroke="#e0e0e0" stroke-width="1"/>
<rect x="930" y="98" width="2" height="4" fill="#ecc6d3"/>
<path d="M935.5 97.60V103.80" stroke="#e6e6e6" stroke-width="1"/>
<rect x="934" y="99" width="2" height="2" fill="#eee2e5"/>
<path d="M939.5 105.50V112.10" stroke="#e0e0e0" stroke-width="1"/>
<rect x="938" y="105" width="2" height="7" fill="#ecc6d3"/>
<path d="M942.5 98.50V109.50" stroke="#e6e6e6" stroke-width="1"/>
<rect x="941.5" y="100.5" width="2" height="6.0" fill="#17622a" stroke="#a9e5aa" stroke-width="1"/>
<path d="M947.5 93.50V98.60" stroke="#e6e6e6" stroke-width="1"/>
<rect x="946" y="94" width="2" height="2" fill="#e4ebe4"/>
<path d="M951.5 89.00V97.60" stroke="#e6e6e6" stroke-width="1"/>
<rect x="950.5" y="89.5" width="2" height="7.0" fill="#17622a" stroke="#a9e5aa" stroke-width="1"/>
<path d="M955.5 80.50V86.20" stroke="#e6e6e6" stroke-width="1"/>
<rect x="954.5" y="82.5" width="2" height="2.0" fill="#9c0d37" stroke="#f8a4b7" stroke-width="1"/>
<path d="M959.5 67.50V75.80" stroke="#e6e6e6" stroke-width="1"/>
<rect x="958.5" y="69.5" width="2" height="5.0" fill="#17622a" stroke="#a9e5aa" stroke-width="1"/>
<path d="M963.5 72.50V80.00" stroke="#e6e6e6" stroke-width="1"/>
<rect x="962.5" y="73.5" width="2" height="2.0" fill="#9c0d37" stroke="#f8a4b7" stroke-width="1"/>
<path d="M967.5 64.50V82.50" stroke="#e6e6e6" stroke-width="1"/>
<rect x="966.5" y="65.5" width="2" height="5.0" fill="#9c0d37" stroke="#f8a4b7" stroke-width="1"/>
<path d="M971.5 73.00V86.20" stroke="#e6e6e6" stroke-width="1"/>
<rect x="970.5" y="73.5" width="2" height="9.0" fill="#9c0d37" stroke="#f8a4b7" stroke-width="1"/>
<path d="M975.5 78.50V85.80" stroke="#e6e6e6" stroke-width="1"/>
<rect x="974.5" y="79.5" width="2" height="6.0" fill="#17622a" stroke="#a9e5aa" stroke-width="1"/>
<path d="M979.5 73.50V84.20" stroke="#e6e6e6" stroke-width="1"/>
<rect x="978.5" y="75.5" width="2" height="2.0" fill="#17622a" stroke="#a9e5aa" stroke-width="1"/>
<path d="M983.5 64.50V79.00" stroke="#e6e6e6" stroke-width="1"/>
<rect x="982.5" y="66.5" width="2" height="8.0" fill="#9c0d37" stroke="#f8a4b7" stroke-width="1"/>
<path d="M987.5 78.50V88.40" stroke="#e6e6e6" stroke-width="1"/>
<rect x="986.5" y="84.5" width="2" height="3.0" fill="#9c0d37" stroke="#f8a4b7" stroke-width="1"/>
<path d="M991.5 65.50V77.00" stroke="#e6e6e6" stroke-width="1"/>
<rect x="990.5" y="66.5" width="2" height="9.0" fill="#17622a" stroke="#a9e5aa" stroke-width="1"/>
<path d="M995.5 50.50V61.40" stroke="#e6e6e6" stroke-width="1"/>
<rect x="994.5" y="51.5" width="2" height="9.0" fill="#17622a" stroke="#a9e5aa" stroke-width="1"/>
<path d="M999.5 45.00V50.50" stroke="#e6e6e6" stroke-width="1"/>
<rect x="998.5" y="45.5" width="2" height="4.0" fill="#9c0d37" stroke="#f8a4b7" stroke-width="1"/>
<path d="M1004.5 40.60V50.50" stroke="#e6e6e6" stroke-width="1"/>
<rect x="1003" y="41" width="2" height="1" fill="#eee2e5"/>
<path d="M1008.5 36.40V52.00" stroke="#e0e0e0" stroke-width="1"/>
<rect x="1007" y="37" width="2" height="13" fill="#ecc6d3"/>
<path d="M1012.5 44.20V55.60" stroke="#e0e0e0" stroke-width="1"/>
<rect x="1011" y="44" width="2" height="5" fill="#dcebdc"/>
<path d="M1016.5 46.80V59.30" stroke="#e0e0e0" stroke-width="1"/>
<rect x="1015" y="47" width="2" height="8" fill="#dcebdc"/>
<path d="M1020.5 40.00V48.40" stroke="#e0e0e0" stroke-width="1"/>
<rect x="1019" y="44" width="2" height="4" fill="#dcebdc"/>
<path d="M1024.5 45.30V52.50" stroke="#e0e0e0" stroke-width="1"/>
<rect x="1023" y="45" width="2" height="6" fill="#dcebdc"/>
<path d="M1028.5 34.40V46.30" stroke="#e0e0e0" stroke-width="1"/>
<rect x="1027" y="35" width="2" height="11" fill="#dcebdc"/>
<path d="M12.3 34.0H1054.5" stroke="#48a86c" stroke-width="1.6" stroke-dasharray="7.9 3.14"/>
<path d="M12.3 405.1H1054.5" stroke="#e02424" stroke-opacity="0.75" stroke-width="1.6" stroke-dasharray="7.9 3.14"/>
<path d="M12.5 427.8V11.5H1054.5V427.8" fill="none" stroke="#a8a8a8" stroke-width="1"/>
<rect x="12.5" y="428.0" width="1042.0" height="166.5" fill="#828282"/>
<text x="482.6" y="481.7" text-anchor="middle" font-family="DejaVu Sans, sans-serif" font-weight="bold" font-size="59.5" fill="#000" fill-opacity="0.08">VEA</text>
<text x="482.2" y="496.8" text-anchor="middle" font-family="DejaVu Sans, sans-serif" font-size="16.67" fill="#000" fill-opacity="0.06" stroke="#000" stroke-opacity="0.1" stroke-width="0.7">Vanguard FTSE Developed Markets</text>
<rect x="13" y="578.20" width="3" height="16.30" fill="#1a961a"/>
<rect x="16" y="574.20" width="4" height="20.30" fill="#ff0000"/>
<rect x="20" y="561.90" width="4" height="32.60" fill="#ff0000"/>
<rect x="24" y="567.60" width="4" height="26.90" fill="#ff0000"/>
<rect x="28" y="558.90" width="4" height="35.60" fill="#ff0000"/>
<rect x="32" y="562.10" width="4" height="32.40" fill="#ff0000"/>
<rect x="36" y="560.20" width="4" height="34.30" fill="#1a961a"/>
<rect x="40" y="558.20" width="5" height="36.30" fill="#ff0000"/>
<rect x="45" y="556.00" width="4" height="38.50" fill="#1a961a"/>
<rect x="49" y="543.40" width="4" height="51.10" fill="#1a961a"/>
<rect x="53" y="536.00" width="4" height="58.50" fill="#ff0000"/>
<rect x="57" y="561.40" width="4" height="33.10" fill="#1a961a"/>
<rect x="61" y="556.00" width="4" height="38.50" fill="#ff0000"/>
<rect x="65" y="549.10" width="4" height="45.40" fill="#ff0000"/>
<rect x="69" y="560.90" width="4" height="33.60" fill="#ff0000"/>
<rect x="73" y="558.90" width="4" height="35.60" fill="#ff0000"/>
<rect x="77" y="557.20" width="4" height="37.30" fill="#1a961a"/>
<rect x="81" y="551.30" width="4" height="43.20" fill="#1a961a"/>
<rect x="85" y="565.80" width="4" height="28.70" fill="#1a961a"/>
<rect x="89" y="559.20" width="4" height="35.30" fill="#1a961a"/>
<rect x="93" y="575.00" width="4" height="19.50" fill="#1a961a"/>
<rect x="97" y="575.00" width="4" height="19.50" fill="#1a961a"/>
<rect x="101" y="569.00" width="4" height="25.50" fill="#1a961a"/>
<rect x="105" y="569.00" width="4" height="25.50" fill="#ff0000"/>
<rect x="109" y="554.00" width="4" height="40.50" fill="#ff0000"/>
<rect x="113" y="566.00" width="4" height="28.50" fill="#1a961a"/>
<rect x="117" y="563.10" width="4" height="31.40" fill="#ff0000"/>
<rect x="121" y="545.10" width="4" height="49.40" fill="#1a961a"/>
<rect x="125" y="560.20" width="4" height="34.30" fill="#1a961a"/>
<rect x="129" y="564.10" width="4" height="30.40" fill="#1a961a"/>
<rect x="133" y="548.10" width="4" height="46.40" fill="#ff0000"/>
<rect x="137" y="488.90" width="4" height="105.60" fill="#ff0000"/>
<rect x="141" y="442.80" width="5" height="151.70" fill="#1a961a"/>
<rect x="146" y="490.80" width="4" height="103.70" fill="#ff0000"/>
<rect x="150" y="498.10" width="4" height="96.40" fill="#1a961a"/>
<rect x="154" y="516.00" width="4" height="78.50" fill="#ff0000"/>
<rect x="158" y="548.10" width="4" height="46.40" fill="#1a961a"/>
<rect x="162" y="568.80" width="4" height="25.70" fill="#1a961a"/>
<rect x="166" y="572.00" width="4" height="22.50" fill="#1a961a"/>
<rect x="170" y="571.30" width="4" height="23.20" fill="#ff0000"/>
<rect x="174" y="570.00" width="4" height="24.50" fill="#1a961a"/>
<rect x="178" y="558.90" width="4" height="35.60" fill="#ff0000"/>
<rect x="182" y="553.00" width="4" height="41.50" fill="#1a961a"/>
<rect x="186" y="566.10" width="4" height="28.40" fill="#ff0000"/>
<rect x="190" y="574.20" width="4" height="20.30" fill="#1a961a"/>
<rect x="194" y="576.00" width="4" height="18.50" fill="#1a961a"/>
<rect x="198" y="545.10" width="4" height="49.40" fill="#1a961a"/>
<rect x="202" y="565.30" width="4" height="29.20" fill="#1a961a"/>
<rect x="206" y="566.10" width="4" height="28.40" fill="#1a961a"/>
<rect x="210" y="571.30" width="4" height="23.20" fill="#ff0000"/>
<rect x="214" y="569.00" width="4" height="25.50" fill="#1a961a"/>
<rect x="218" y="574.00" width="4" height="20.50" fill="#ff0000"/>
<rect x="222" y="547.10" width="4" height="47.40" fill="#1a961a"/>
<rect x="226" y="566.10" width="4" height="28.40" fill="#ff0000"/>
<rect x="230" y="560.20" width="4" height="34.30" fill="#ff0000"/>
<rect x="234" y="564.10" width="4" height="30.40" fill="#ff0000"/>
<rect x="238" y="563.10" width="4" height="31.40" fill="#1a961a"/>
<rect x="242" y="569.00" width="5" height="25.50" fill="#1a961a"/>
<rect x="247" y="564.10" width="4" height="30.40" fill="#ff0000"/>
<rect x="251" y="569.00" width="4" height="25.50" fill="#1a961a"/>
<rect x="255" y="567.30" width="4" height="27.20" fill="#1a961a"/>
<rect x="259" y="569.00" width="4" height="25.50" fill="#1a961a"/>
<rect x="263" y="556.20" width="4" height="38.30" fill="#1a961a"/>
<rect x="267" y="550.30" width="4" height="44.20" fill="#ff0000"/>
<rect x="271" y="563.10" width="4" height="31.40" fill="#1a961a"/>
<rect x="275" y="562.10" width="4" height="32.40" fill="#1a961a"/>
<rect x="279" y="560.90" width="4" height="33.60" fill="#ff0000"/>
<rect x="283" y="562.10" width="4" height="32.40" fill="#ff0000"/>
<rect x="287" y="564.10" width="4" height="30.40" fill="#ff0000"/>
<rect x="291" y="557.20" width="4" height="37.30" fill="#1a961a"/>
<rect x="295" y="565.10" width="4" height="29.40" fill="#1a961a"/>
<rect x="299" y="549.30" width="4" height="45.20" fill="#1a961a"/>
<rect x="303" y="562.10" width="4" height="32.40" fill="#1a961a"/>
<rect x="307" y="556.20" width="4" height="38.30" fill="#ff0000"/>
<rect x="311" y="569.00" width="4" height="25.50" fill="#1a961a"/>
<rect x="315" y="566.10" width="4" height="28.40" fill="#1a961a"/>
<rect x="319" y="569.00" width="4" height="25.50" fill="#ff0000"/>
<rect x="323" y="551.30" width="4" height="43.20" fill="#ff0000"/>
<rect x="327" y="570.30" width="4" height="24.20" fill="#1a961a"/>
<rect x="331" y="561.20" width="4" height="33.30" fill="#ff0000"/>
<rect x="335" y="559.20" width="4" height="35.30" fill="#ff0000"/>
<rect x="339" y="563.10" width="4" height="31.40" fill="#ff0000"/>
<rect x="343" y="543.20" width="5" height="51.30" fill="#ff0000"/>
<rect x="348" y="556.20" width="4" height="38.30" fill="#ff0000"/>
<rect x="352" y="521.20" width="4" height="73.30" fill="#1a961a"/>
<rect x="356" y="533.10" width="4" height="61.40" fill="#1a961a"/>
<rect x="360" y="561.20" width="4" height="33.30" fill="#1a961a"/>
<rect x="364" y="554.30" width="4" height="40.20" fill="#1a961a"/>
<rect x="368" y="566.10" width="4" height="28.40" fill="#1a961a"/>
<rect x="372" y="552.30" width="4" height="42.20" fill="#1a961a"/>
<rect x="376" y="555.20" width="4" height="39.30" fill="#1a961a"/>
<rect x="380" y="566.10" width="4" height="28.40" fill="#1a961a"/>
<rect x="384" y="577.20" width="4" height="17.30" fill="#1a961a"/>
<rect x="388" y="551.30" width="4" height="43.20" fill="#ff0000"/>
<rect x="392" y="556.20" width="4" height="38.30" fill="#1a961a"/>
<rect x="396" y="571.30" width="4" height="23.20" fill="#1a961a"/>
<rect x="400" y="575.00" width="4" height="19.50" fill="#1a961a"/>
<rect x="404" y="571.30" width="4" height="23.20" fill="#ff0000"/>
<rect x="408" y="569.00" width="4" height="25.50" fill="#1a961a"/>
<rect x="412" y="570.30" width="4" height="24.20" fill="#ff0000"/>
<rect x="416" y="554.30" width="4" height="40.20" fill="#1a961a"/>
<rect x="420" y="562.10" width="4" height="32.40" fill="#1a961a"/>
<rect x="424" y="575.20" width="4" height="19.30" fill="#ff0000"/>
<rect x="428" y="571.30" width="4" height="23.20" fill="#1a961a"/>
<rect x="432" y="562.10" width="4" height="32.40" fill="#1a961a"/>
<rect x="436" y="562.10" width="4" height="32.40" fill="#1a961a"/>
<rect x="440" y="572.30" width="4" height="22.20" fill="#ff0000"/>
<rect x="444" y="577.20" width="5" height="17.30" fill="#1a961a"/>
<rect x="449" y="566.10" width="4" height="28.40" fill="#ff0000"/>
<rect x="453" y="563.10" width="4" height="31.40" fill="#ff0000"/>
<rect x="457" y="559.20" width="4" height="35.30" fill="#ff0000"/>
<rect x="461" y="542.20" width="4" height="52.30" fill="#ff0000"/>
<rect x="465" y="554.30" width="4" height="40.20" fill="#ff0000"/>
<rect x="469" y="561.20" width="4" height="33.30" fill="#1a961a"/>
<rect x="473" y="572.30" width="4" height="22.20" fill="#ff0000"/>
<rect x="477" y="575.20" width="4" height="19.30" fill="#1a961a"/>
<rect x="481" y="568.10" width="4" height="26.40" fill="#ff0000"/>
<rect x="485" y="576.20" width="4" height="18.30" fill="#1a961a"/>
<rect x="489" y="569.00" width="4" height="25.50" fill="#ff0000"/>
<rect x="493" y="573.20" width="4" height="21.30" fill="#1a961a"/>
<rect x="497" y="572.30" width="4" height="22.20" fill="#1a961a"/>
<rect x="501" y="569.00" width="4" height="25.50" fill="#1a961a"/>
<rect x="505" y="575.20" width="4" height="19.30" fill="#ff0000"/>
<rect x="509" y="563.10" width="4" height="31.40" fill="#1a961a"/>
<rect x="513" y="559.20" width="4" height="35.30" fill="#ff0000"/>
<rect x="517" y="566.10" width="4" height="28.40" fill="#1a961a"/>
<rect x="521" y="569.00" width="4" height="25.50" fill="#ff0000"/>
<rect x="525" y="574.20" width="4" height="20.30" fill="#1a961a"/>
<rect x="529" y="565.10" width="4" height="29.40" fill="#ff0000"/>
<rect x="533" y="566.10" width="4" height="28.40" fill="#1a961a"/>
<rect x="537" y="574.20" width="4" height="20.30" fill="#1a961a"/>
<rect x="541" y="570.30" width="4" height="24.20" fill="#1a961a"/>
<rect x="545" y="557.20" width="5" height="37.30" fill="#1a961a"/>
<rect x="550" y="559.20" width="4" height="35.30" fill="#1a961a"/>
<rect x="554" y="556.20" width="4" height="38.30" fill="#1a961a"/>
<rect x="558" y="573.20" width="4" height="21.30" fill="#1a961a"/>
<rect x="562" y="563.10" width="4" height="31.40" fill="#ff0000"/>
<rect x="566" y="574.20" width="4" height="20.30" fill="#1a961a"/>
<rect x="570" y="563.10" width="4" height="31.40" fill="#1a961a"/>
<rect x="574" y="567.10" width="4" height="27.40" fill="#ff0000"/>
<rect x="578" y="564.10" width="4" height="30.40" fill="#1a961a"/>
<rect x="582" y="572.30" width="4" height="22.20" fill="#1a961a"/>
<rect x="586" y="532.10" width="4" height="62.40" fill="#1a961a"/>
<rect x="590" y="554.30" width="4" height="40.20" fill="#ff0000"/>
<rect x="594" y="562.10" width="4" height="32.40" fill="#ff0000"/>
<rect x="598" y="549.30" width="4" height="45.20" fill="#1a961a"/>
<rect x="602" y="553.00" width="4" height="41.50" fill="#ff0000"/>
<rect x="606" y="566.10" width="4" height="28.40" fill="#1a961a"/>
<rect x="610" y="557.20" width="4" height="37.30" fill="#ff0000"/>
<rect x="614" y="566.10" width="4" height="28.40" fill="#ff0000"/>
<rect x="618" y="555.20" width="4" height="39.30" fill="#ff0000"/>
<rect x="622" y="567.10" width="4" height="27.40" fill="#1a961a"/>
<rect x="626" y="562.10" width="4" height="32.40" fill="#1a961a"/>
<rect x="630" y="556.20" width="4" height="38.30" fill="#1a961a"/>
<rect x="634" y="558.20" width="4" height="36.30" fill="#1a961a"/>
<rect x="638" y="555.20" width="4" height="39.30" fill="#ff0000"/>
<rect x="642" y="569.00" width="4" height="25.50" fill="#1a961a"/>
<rect x="646" y="569.00" width="5" height="25.50" fill="#ff0000"/>
<rect x="651" y="569.00" width="4" height="25.50" fill="#ff0000"/>
<rect x="655" y="569.00" width="4" height="25.50" fill="#1a961a"/>
<rect x="659" y="563.10" width="4" height="31.40" fill="#ff0000"/>
<rect x="663" y="557.20" width="4" height="37.30" fill="#ff0000"/>
<rect x="667" y="568.10" width="4" height="26.40" fill="#1a961a"/>
<rect x="671" y="555.20" width="4" height="39.30" fill="#1a961a"/>
<rect x="675" y="566.10" width="4" height="28.40" fill="#1a961a"/>
<rect x="679" y="558.20" width="4" height="36.30" fill="#ff0000"/>
<rect x="683" y="568.10" width="4" height="26.40" fill="#1a961a"/>
<rect x="687" y="576.20" width="4" height="18.30" fill="#1a961a"/>
<rect x="691" y="573.20" width="4" height="21.30" fill="#ff0000"/>
<rect x="695" y="567.10" width="4" height="27.40" fill="#ff0000"/>
<rect x="699" y="579.20" width="4" height="15.30" fill="#1a961a"/>
<rect x="703" y="573.20" width="4" height="21.30" fill="#ff0000"/>
<rect x="707" y="550.30" width="4" height="44.20" fill="#1a961a"/>
<rect x="711" y="559.20" width="4" height="35.30" fill="#1a961a"/>
<rect x="715" y="549.30" width="4" height="45.20" fill="#ff0000"/>
<rect x="719" y="558.20" width="4" height="36.30" fill="#1a961a"/>
<rect x="723" y="568.10" width="4" height="26.40" fill="#ff0000"/>
<rect x="727" y="571.30" width="4" height="23.20" fill="#ff0000"/>
<rect x="731" y="558.20" width="4" height="36.30" fill="#ff0000"/>
<rect x="735" y="571.30" width="4" height="23.20" fill="#1a961a"/>
<rect x="739" y="556.20" width="4" height="38.30" fill="#ff0000"/>
<rect x="743" y="555.20" width="4" height="39.30" fill="#1a961a"/>
<rect x="747" y="569.00" width="5" height="25.50" fill="#1a961a"/>
<rect x="752" y="578.20" width="4" height="16.30" fill="#1a961a"/>
<rect x="756" y="564.10" width="4" height="30.40" fill="#1a961a"/>
<rect x="760" y="557.20" width="4" height="37.30" fill="#ff0000"/>
<rect x="764" y="563.10" width="4" height="31.40" fill="#1a961a"/>
<rect x="768" y="564.10" width="4" height="30.40" fill="#ff0000"/>
<rect x="772" y="534.30" width="4" height="60.20" fill="#1a961a"/>
<rect x="776" y="554.30" width="4" height="40.20" fill="#ff0000"/>
<rect x="780" y="541.20" width="4" height="53.30" fill="#ff0000"/>
<rect x="784" y="550.30" width="4" height="44.20" fill="#1a961a"/>
<rect x="788" y="525.20" width="4" height="69.30" fill="#1a961a"/>
<rect x="792" y="550.30" width="4" height="44.20" fill="#1a961a"/>
<rect x="796" y="566.10" width="4" height="28.40" fill="#1a961a"/>
<rect x="800" y="582.10" width="4" height="12.40" fill="#1a961a"/>
<rect x="804" y="569.00" width="4" height="25.50" fill="#ff0000"/>
<rect x="808" y="548.10" width="4" height="46.40" fill="#ff0000"/>
<rect x="812" y="569.00" width="4" height="25.50" fill="#1a961a"/>
<rect x="816" y="565.10" width="4" height="29.40" fill="#ff0000"/>
<rect x="820" y="554.30" width="4" height="40.20" fill="#ff0000"/>
<rect x="824" y="558.20" width="4" height="36.30" fill="#ff0000"/>
<rect x="828" y="558.20" width="4" height="36.30" fill="#ff0000"/>
<rect x="832" y="549.30" width="4" height="45.20" fill="#1a961a"/>
<rect x="836" y="548.10" width="4" height="46.40" fill="#1a961a"/>
<rect x="840" y="536.30" width="4" height="58.20" fill="#ff0000"/>
<rect x="844" y="540.20" width="4" height="54.30" fill="#ff0000"/>
<rect x="848" y="520.20" width="5" height="74.30" fill="#ff0000"/>
<rect x="853" y="550.30" width="4" height="44.20" fill="#ff0000"/>
<rect x="857" y="553.30" width="4" height="41.20" fill="#ff0000"/>
<rect x="861" y="544.40" width="4" height="50.10" fill="#1a961a"/>
<rect x="865" y="539.20" width="4" height="55.30" fill="#1a961a"/>
<rect x="869" y="518.30" width="4" height="76.20" fill="#1a961a"/>
<rect x="873" y="571.30" width="4" height="23.20" fill="#1a961a"/>
<rect x="877" y="563.10" width="4" height="31.40" fill="#1a961a"/>
<rect x="881" y="553.30" width="4" height="41.20" fill="#1a961a"/>
<rect x="885" y="559.20" width="4" height="35.30" fill="#ff0000"/>
<rect x="889" y="556.20" width="4" height="38.30" fill="#ff0000"/>
<rect x="893" y="541.20" width="4" height="53.30" fill="#1a961a"/>
<rect x="897" y="527.10" width="4" height="67.40" fill="#1a961a"/>
<rect x="901" y="531.30" width="4" height="63.20" fill="#1a961a"/>
<rect x="905" y="541.20" width="4" height="53.30" fill="#ff0000"/>
<rect x="909" y="554.30" width="4" height="40.20" fill="#1a961a"/>
<rect x="913" y="553.30" width="4" height="41.20" fill="#1a961a"/>
<rect x="917" y="551.30" width="4" height="43.20" fill="#1a961a"/>
<rect x="921" y="536.30" width="4" height="58.20" fill="#ff0000"/>
<rect x="925" y="475.40" width="4" height="119.10" fill="#1a961a"/>
<rect x="929" y="533.30" width="4" height="61.20" fill="#ff0000"/>
<rect x="933" y="544.40" width="4" height="50.10" fill="#ff0000"/>
<rect x="937" y="531.30" width="4" height="63.20" fill="#ff0000"/>
<rect x="941" y="505.20" width="4" height="89.30" fill="#1a961a"/>
<rect x="945" y="540.20" width="4" height="54.30" fill="#1a961a"/>
<rect x="949" y="531.30" width="5" height="63.20" fill="#1a961a"/>
<rect x="954" y="544.20" width="4" height="50.30" fill="#ff0000"/>
<rect x="958" y="531.20" width="4" height="63.30" fill="#1a961a"/>
<rect x="962" y="531.20" width="4" height="63.30" fill="#ff0000"/>
<rect x="966" y="504.20" width="4" height="90.30" fill="#ff0000"/>
<rect x="970" y="512.00" width="4" height="82.50" fill="#ff0000"/>
<rect x="974" y="537.90" width="4" height="56.60" fill="#1a961a"/>
<rect x="978" y="526.10" width="4" height="68.40" fill="#1a961a"/>
<rect x="982" y="515.00" width="4" height="79.50" fill="#ff0000"/>
<rect x="986" y="529.00" width="4" height="65.50" fill="#ff0000"/>
<rect x="990" y="558.10" width="4" height="36.40" fill="#1a961a"/>
<rect x="994" y="535.20" width="4" height="59.30" fill="#1a961a"/>
<rect x="998" y="550.20" width="4" height="44.30" fill="#ff0000"/>
<rect x="1002" y="544.00" width="4" height="50.50" fill="#ff0000"/>
<rect x="1006" y="539.10" width="4" height="55.40" fill="#ff0000"/>
<rect x="1010" y="529.00" width="4" height="65.50" fill="#1a961a"/>
<rect x="1014" y="541.10" width="4" height="53.40" fill="#1a961a"/>
<rect x="1018" y="565.00" width="4" height="29.50" fill="#1a961a"/>
<rect x="1022" y="559.10" width="4" height="35.40" fill="#1a961a"/>
<rect x="1026" y="554.10" width="4" height="40.40" fill="#1a961a"/>
<rect x="12.5" y="428.0" width="1042.0" height="166.5" fill="none" stroke="#a8a8a8" stroke-width="1"/>
<path d="M1054.5 28.5h5.6 M1054.5 100.5h5.6 M1054.5 172.5h5.6 M1054.5 244.5h5.6 M1054.5 316.5h5.6 M1054.5 388.5h5.6 M1054.5 479.5h5.6 M1054.5 539.5h5.6 M42.5 594.5v4.9 M127.5 594.5v4.9 M212.5 594.5v4.9 M297.5 594.5v4.9 M377.5 594.5v4.9 M466.5 594.5v4.9 M551.5 594.5v4.9 M636.5 594.5v4.9 M729.5 594.5v4.9 M806.5 594.5v4.9 M894.5 594.5v4.9 M975.5 594.5v4.9" stroke="#f0f0f0" stroke-width="1"/>
<text x="1063.3" y="33.85" font-family="DejaVu Sans, sans-serif" font-size="13.25" fill="#f0f0f0">70.0</text>
<text x="1063.3" y="105.90" font-family="DejaVu Sans, sans-serif" font-size="13.25" fill="#f0f0f0">65.0</text>
<text x="1063.3" y="177.95" font-family="DejaVu Sans, sans-serif" font-size="13.25" fill="#f0f0f0">60.0</text>
<text x="1063.3" y="250.00" font-family="DejaVu Sans, sans-serif" font-size="13.25" fill="#f0f0f0">55.0</text>
<text x="1063.3" y="322.05" font-family="DejaVu Sans, sans-serif" font-size="13.25" fill="#f0f0f0">50.0</text>
<text x="1063.3" y="394.10" font-family="DejaVu Sans, sans-serif" font-size="13.25" fill="#f0f0f0">45.0</text>
<text x="1063.3" y="484.95" font-family="DejaVu Sans, sans-serif" font-size="13.25" fill="#f0f0f0">40</text>
<text x="1063.3" y="545.15" font-family="DejaVu Sans, sans-serif" font-size="13.25" fill="#f0f0f0">20</text>
<text transform="translate(1110.6 222.9) rotate(-90)" text-anchor="middle" font-family="DejaVu Sans, sans-serif" font-size="13.9" fill="#d8d8d8">Preis</text>
<text transform="translate(1096 514) rotate(-90)" text-anchor="middle" font-family="DejaVu Sans, sans-serif" font-size="13.9" fill="#d8d8d8">Volumen</text>
<text transform="translate(1116.7 508.2) rotate(-90)" text-anchor="middle" font-family="DejaVu Sans, sans-serif" font-size="13.9" fill="#d8d8d8">10<tspan dy="-5" font-size="9.7">6</tspan></text>
<text transform="translate(41.50 633.09) rotate(-45)" text-anchor="middle" font-family="DejaVu Sans, sans-serif" font-size="13.9" fill="#f0f0f0" y="3.84">Mar 2025</text>
<text transform="translate(211.18 633.98) rotate(-45)" text-anchor="middle" font-family="DejaVu Sans, sans-serif" font-size="13.9" fill="#f0f0f0" y="3.84">May 2025</text>
<text transform="translate(376.82 630.09) rotate(-45)" text-anchor="middle" font-family="DejaVu Sans, sans-serif" font-size="13.9" fill="#f0f0f0" y="3.84">Jul 2025</text>
<text transform="translate(550.54 633.09) rotate(-45)" text-anchor="middle" font-family="DejaVu Sans, sans-serif" font-size="13.9" fill="#f0f0f0" y="3.84">Sep 2025</text>
<text transform="translate(728.30 633.41) rotate(-45)" text-anchor="middle" font-family="DejaVu Sans, sans-serif" font-size="13.9" fill="#f0f0f0" y="3.84">Nov 2025</text>
<text transform="translate(893.94 631.75) rotate(-45)" text-anchor="middle" font-family="DejaVu Sans, sans-serif" font-size="13.9" fill="#f0f0f0" y="3.84">Jan 2026</text>
<path d="M984.40 28.30L1016.38 32.68" stroke="#30c267" stroke-width="2"/>
<path d="M1025.30 33.90L1015.89 36.25L1016.87 29.11Z" fill="#30c267"/>
<rect x="892.6" y="12.9" width="89.60000000000002" height="18.9" rx="2" fill="#050505" stroke="#3bab68" stroke-width="1.6"/>
<text x="895.5" y="26.3" font-family="DejaVu Sans, sans-serif" font-weight="bold" font-size="12.5" fill="#30c267">$69.56 52W</text>
<path d="M190.70 411.20L159.39 406.22" stroke="#e83232" stroke-width="2"/>
<path d="M150.50 404.80L159.95 402.66L158.82 409.77Z" fill="#e83232"/>
<rect x="192.6" y="408.0" width="89.4" height="18.0" rx="2" fill="#161616" stroke="#e83232" stroke-width="1.6"/>
<text x="196.4" y="420.7" font-family="DejaVu Sans, sans-serif" font-weight="bold" font-size="12.5" fill="#e83232">$43.83 52W</text>
</svg>
</body></html>
